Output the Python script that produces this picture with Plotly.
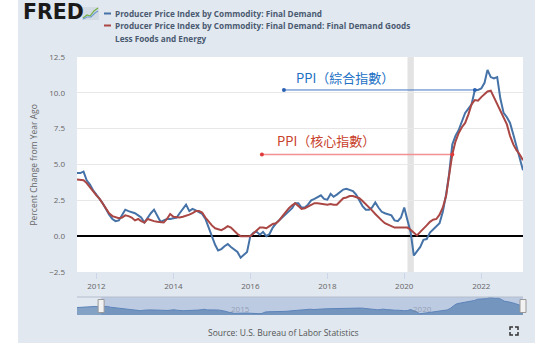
import pandas as pd
import plotly.graph_objects as go

# ---- data: year-over-year % change, monthly, Jul 2011 - Feb 2023 ----
DATES = pd.date_range("2011-07-01", periods=140, freq="MS")

PPI_FINAL_DEMAND = [
    4.4, 4.4, 4.5, 3.9, 3.6, 3.2,
    2.9, 2.6, 2.3, 1.9, 1.5, 1.2, 1.05, 1.1, 1.5, 1.85, 1.75, 1.7,
    1.6, 1.45, 1.3, 0.95, 1.3, 1.6, 1.85, 1.45, 1.0, 1.1, 1.2, 1.2,
    1.25, 1.3, 1.6, 1.9, 2.2, 1.75, 1.9, 1.8, 1.7, 1.55, 1.2, 0.6,
    -0.1, -0.6, -1.0, -0.9, -0.7, -0.55, -0.75, -0.9, -1.1, -1.5, -1.3, -1.1,
    0.0, 0.25, 0.3, 0.1, 0.3, 0.0, 0.15, 0.6, 0.9, 1.1, 1.35, 1.5,
    1.7, 1.95, 2.3, 2.3, 2.0, 2.0, 2.2, 2.5, 2.6, 2.7, 2.85, 2.6,
    2.55, 2.95, 2.75, 2.9, 3.1, 3.25, 3.3, 3.2, 3.15, 2.9, 2.5, 2.1,
    1.85, 1.85, 2.0, 2.35, 2.0, 1.7, 1.6, 1.5, 1.45, 1.1, 1.05, 1.3,
    2.0, 1.1, 0.3, -1.35, -1.05, -0.75, -0.25, -0.2, 0.25, 0.45, 0.7, 0.9,
    1.7, 2.9, 4.3, 6.4, 7.0, 7.4, 8.0, 8.6, 8.9, 9.2, 10.2, 10.2,
    10.3, 10.7, 11.6, 11.1, 11.0, 11.1, 9.6, 8.6, 8.3, 7.9, 7.1, 6.3,
    5.6, 4.6,
]

PPI_CORE_GOODS = [
    3.95, 3.95, 3.9, 3.7, 3.4, 3.1,
    2.85, 2.6, 2.3, 2.0, 1.6, 1.4, 1.35, 1.25, 1.3, 1.45, 1.4, 1.3,
    1.1, 1.2, 1.05, 0.95, 1.2, 1.1, 1.05, 1.0, 1.0, 0.95, 1.2, 1.55,
    1.35, 1.3, 1.3, 1.35, 1.4, 1.5, 1.6, 1.75, 1.75, 1.65, 1.3, 1.0,
    0.75, 0.55, 0.5, 0.42, 0.55, 0.7, 0.6, 0.35, 0.15, 0.0, 0.0, 0.0,
    0.0, 0.2, 0.4, 0.6, 0.6, 0.55, 0.7, 0.85, 0.9, 1.1, 1.4, 1.7,
    1.95, 2.15, 2.3, 2.1, 1.9, 1.95, 2.05, 2.15, 2.3, 2.3, 2.25, 2.2,
    2.2, 2.25, 2.2, 2.2, 2.4, 2.65, 2.7, 2.8, 2.8, 2.75, 2.65, 2.45,
    2.25, 2.0, 1.8, 1.55, 1.3, 1.1, 0.9, 0.8, 0.7, 0.6, 0.6, 0.6,
    0.6, 0.6, 0.45, 0.25, 0.05, 0.3, 0.5, 0.75, 1.0, 1.15, 1.2, 1.5,
    2.0, 2.8, 4.2, 5.7, 6.6, 7.2, 7.6, 7.9, 8.5, 9.2, 9.5, 9.45,
    9.7, 9.9, 10.1, 10.15, 9.7, 9.2, 8.8, 8.3, 7.8, 7.0, 6.4, 6.0,
    5.7, 5.3,
]

# earlier history shown only in the navigator strip
NAV_EARLY_DATES = pd.date_range("2010-11-01", periods=8, freq="MS")
NAV_EARLY_PPI = [3.6, 3.8, 3.9, 4.1, 4.4, 4.6, 4.5, 4.3]

RECESSION = ("2020-02-01", "2020-04-01")
Y_TICKS = [-2.5, 0.0, 2.5, 5.0, 7.5, 10.0, 12.5]
NAV_YEAR_LABELS = ["2015", "2020"]

SERIES_NAMES = [
    "Producer Price Index by Commodity: Final Demand",
    "Producer Price Index by Commodity: Final Demand: Final Demand Goods",
    "Less Foods and Energy",
]
LABEL_TOTAL = "PPI（綜合指數）"
LABEL_CORE = "PPI（核心指數）"
IDX_TOTAL = 124   # Nov 2021 point the headline label points to
IDX_CORE = 117    # Apr 2021 point the core label points to

# ---- geometry / styling ----
W, H = 554, 345
ML, MR, MT, MB = 77, 31, 57, 30
PW, PH = W - ML - MR, H - MT - MB

BLUE = "#4572a7"
RED = "#aa4643"
PANEL = "#e1e8f0"
FONT = "Open Sans, Liberation Sans, sans-serif"
CJK = "Noto Sans CJK TC, Noto Sans CJK SC, sans-serif"


def px(xp):
    return (xp - ML) / PW


def py(yp):
    return (H - MB - yp) / PH


nav_dates = list(NAV_EARLY_DATES) + list(DATES)
nav_vals = NAV_EARLY_PPI + PPI_FINAL_DEMAND
NAV_FLOOR, NAV_CEIL = -2.3, 12.0

fig = go.Figure()

fig.add_trace(go.Scatter(x=DATES, y=PPI_FINAL_DEMAND, mode="lines",
                         line=dict(color=BLUE, width=2), name=SERIES_NAMES[0],
                         hoverinfo="skip"))
fig.add_trace(go.Scatter(x=DATES, y=PPI_CORE_GOODS, mode="lines",
                         line=dict(color=RED, width=2), name=SERIES_NAMES[1],
                         hoverinfo="skip"))

# leader lines from the callout labels to the series
fig.add_trace(go.Scatter(x=["2016-11-15", DATES[IDX_TOTAL]],
                         y=[PPI_FINAL_DEMAND[IDX_TOTAL]] * 2,
                         mode="lines+markers", line=dict(color="#3f76c6", width=1),
                         marker=dict(size=4, color="#2c62b3"), hoverinfo="skip"))
fig.add_trace(go.Scatter(x=["2016-04-20", DATES[IDX_CORE]],
                         y=[PPI_CORE_GOODS[IDX_CORE]] * 2,
                         mode="lines+markers", line=dict(color="#f29191", width=1.5),
                         marker=dict(size=4, color="#e03a3a"), hoverinfo="skip"))

# navigator strip
fig.add_trace(go.Scatter(x=nav_dates, y=[NAV_FLOOR] * len(nav_dates), mode="lines",
                         line=dict(width=0), xaxis="x2", yaxis="y2", hoverinfo="skip"))
fig.add_trace(go.Scatter(x=nav_dates, y=nav_vals, mode="lines", fill="tonexty",
                         fillcolor="rgba(69,114,167,0.6)",
                         line=dict(color="#5d84ba", width=1),
                         xaxis="x2", yaxis="y2", hoverinfo="skip"))

shapes = [
    # outer panel
    dict(type="rect", xref="paper", yref="paper", x0=px(18), x1=px(535),
         y0=py(343), y1=py(0), fillcolor=PANEL, line=dict(width=0), layer="below"),
    # plotting area
    dict(type="rect", xref="x domain", yref="y domain", x0=0, x1=1, y0=0, y1=1,
         fillcolor="white", line=dict(width=0), layer="below"),
    # recession band
    dict(type="rect", xref="x", yref="y domain", x0=RECESSION[0], x1=RECESSION[1],
         y0=0, y1=1, fillcolor="#e3e3e3", line=dict(width=0), layer="below"),
    # navigator selected range
    dict(type="rect", xref="x2", yref="y2 domain", x0=DATES[0], x1=DATES[-1],
         y0=0, y1=1, fillcolor="rgba(102,133,194,0.30)", line=dict(width=0),
         layer="below"),
    # navigator outline
    dict(type="line", xref="paper", yref="paper", x0=0, x1=1, y0=py(297), y1=py(297),
         line=dict(color="#b5bfcc", width=1)),
    # legend swatches
    dict(type="line", xref="paper", yref="paper", x0=px(104), x1=px(111),
         y0=py(13.5), y1=py(13.5), line=dict(color=BLUE, width=2)),
    dict(type="line", xref="paper", yref="paper", x0=px(104), x1=px(111),
         y0=py(25.5), y1=py(25.5), line=dict(color=RED, width=2)),
    # small logo graphic
    dict(type="rect", xref="paper", yref="paper", x0=px(82), x1=px(99),
         y0=py(20), y1=py(7), fillcolor="#d3dbe4", line=dict(width=0)),
]


def poly(points, color, width=1.2):
    d = "M " + " L ".join(f"{px(a)},{py(b)}" for a, b in points)
    return dict(type="path", xref="paper", yref="paper", path=d,
                line=dict(color=color, width=width))


# logo zigzags
shapes.append(poly([(83, 18), (87, 15), (90, 16), (94, 11), (98, 8)], "#74b043"))
shapes.append(poly([(83, 19), (87, 17), (91, 17), (95, 13), (98, 11)], "#6d9bd3"))

# navigator handles, placed at the selected range ends
nav_start = pd.Timestamp(nav_dates[0])
nav_end = pd.Timestamp(DATES[-1])
span = (nav_end - nav_start).total_seconds()
for d in (DATES[0], DATES[-1]):
    frac = (pd.Timestamp(d) - nav_start).total_seconds() / span
    shapes.append(dict(type="rect", xref="paper", yref="paper",
                       xsizemode="pixel", ysizemode="pixel",
                       xanchor=frac, yanchor=py(306), x0=-3, x1=3, y0=-6.5, y1=6.5,
                       fillcolor="#f2f2f2", line=dict(color="#999999", width=1),
                       layer="above"))

# fullscreen icon corners
cx0, cx1, cy0, cy1, k = 510, 518, 327, 335, 3
for (a, b, dx, dy) in [(cx0, cy0, 1, 1), (cx1, cy0, -1, 1), (cx0, cy1, 1, -1), (cx1, cy1, -1, -1)]:
    shapes.append(poly([(a + dx * k, b), (a, b), (a, b + dy * k)], "#333333", 1.5))


def note(text, x, y, size, color, family=FONT, xanchor="center", **kw):
    return dict(text=text, xref=kw.pop("xref", "paper"), yref=kw.pop("yref", "paper"),
                x=x, y=y, xanchor=xanchor, yanchor="middle", showarrow=False,
                font=dict(family=family, size=size, color=color), **kw)


LEGEND_COLOR = "#4a5a70"
LEGEND_SIZE = 8.2
annotations = [
    note("<b>FRED</b>", px(21), py(12.5), 20.5, "#1a1a1a",
         family="DejaVu Sans, Liberation Sans, sans-serif", xanchor="left"),
    note("<b>" + SERIES_NAMES[0] + "</b>", px(113), py(13.5), LEGEND_SIZE, LEGEND_COLOR, xanchor="left"),
    note("<b>" + SERIES_NAMES[1] + "</b>", px(113), py(25.5), LEGEND_SIZE, LEGEND_COLOR, xanchor="left"),
    note("<b>" + SERIES_NAMES[2] + "</b>", px(113), py(38.5), LEGEND_SIZE, LEGEND_COLOR, xanchor="left"),
    note("Percent Change from Year Ago", px(32.5), py(165), 8.5, "#666666", textangle=-90),
    note(LABEL_TOTAL, "2018-06-20", 11.05, 13, "#2270c4", family=CJK, xref="x", yref="y"),
    note(LABEL_CORE, "2017-12-15", 6.65, 13, "#c8412b", family=CJK, xref="x", yref="y"),
    note("Source: U.S. Bureau of Labor Statistics", px(283), py(332), 8.5, "#555555"),
]
for yr in NAV_YEAR_LABELS:
    annotations.append(note(yr, f"{yr}-01-01", 0.35, 8, "rgba(120,130,145,0.6)",
                            xanchor="left", xref="x2", yref="y2 domain"))

fig.update_layout(
    width=W, height=H,
    margin=dict(l=ML, r=MR, t=MT, b=MB, pad=0),
    paper_bgcolor="white",
    plot_bgcolor="rgba(0,0,0,0)",
    showlegend=False,
    shapes=shapes,
    annotations=annotations,
    xaxis=dict(domain=[0, 1], anchor="y", type="date",
               range=[DATES[0], DATES[-1]], tick0="2012-01-01", dtick="M24",
               tickformat="%Y", ticks="outside", ticklen=6, tickcolor="#ccd6eb",
               showgrid=False, zeroline=False, showline=False,
               tickfont=dict(family=FONT, size=8, color="#666666")),
    yaxis=dict(domain=[py(272), 1], anchor="x", range=[-2.5, 12.5],
               tickvals=Y_TICKS, tickformat=".1f", showgrid=True,
               gridcolor="#e8e8e8", gridwidth=1, zeroline=True,
               zerolinecolor="#000000", zerolinewidth=2, ticks="",
               ticklabelstandoff=11,
               tickfont=dict(family=FONT, size=8, color="#666666")),
    xaxis2=dict(domain=[0, 1], anchor="y2", type="date",
                range=[nav_dates[0], DATES[-1]], showticklabels=False,
                showgrid=False, zeroline=False, ticks=""),
    yaxis2=dict(domain=[0, py(297)], anchor="x2", range=[NAV_FLOOR, NAV_CEIL],
                showticklabels=False, showgrid=False, zeroline=False, ticks=""),
)

fig.write_html("out.html")
